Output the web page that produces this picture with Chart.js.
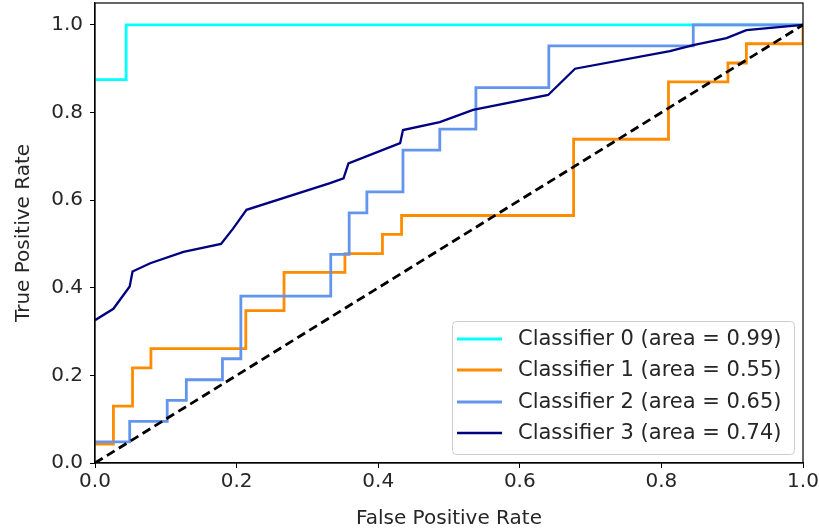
<!DOCTYPE html>
<html>
<head>
<meta charset="utf-8">
<script src="https://cdn.jsdelivr.net/npm/chart.js"></script>
<style>
  html, body { margin: 0; padding: 0; background: #fff; }
  #wrap { width: 819px; height: 532px; position: relative; }
</style>
</head>
<body>
<div id="wrap"><canvas id="roc"></canvas></div>
<script>
// ROC curve points (false positive rate / true positive rate)
const fpr0 = [0, 0.044, 0.044, 1];
const tpr0 = [0.875, 0.875, 1, 1];

const fpr1 = [0, 0.026, 0.026, 0.053, 0.053, 0.079, 0.079, 0.213, 0.213, 0.267, 0.267, 0.353, 0.353, 0.406, 0.406, 0.433, 0.433, 0.676, 0.676, 0.81, 0.81, 0.894, 0.894, 0.92, 0.92, 1, 1];
const tpr1 = [0.043, 0.043, 0.130, 0.130, 0.217, 0.217, 0.261, 0.261, 0.348, 0.348, 0.435, 0.435, 0.478, 0.478, 0.522, 0.522, 0.565, 0.565, 0.739, 0.739, 0.870, 0.870, 0.913, 0.913, 0.957, 0.957, 1];

const fpr2 = [0, 0.049, 0.049, 0.102, 0.102, 0.129, 0.129, 0.18, 0.18, 0.206, 0.206, 0.333, 0.333, 0.359, 0.359, 0.384, 0.384, 0.435, 0.435, 0.487, 0.487, 0.538, 0.538, 0.641, 0.641, 0.845, 0.845, 1];
const tpr2 = [0.048, 0.048, 0.095, 0.095, 0.143, 0.143, 0.190, 0.190, 0.238, 0.238, 0.381, 0.381, 0.476, 0.476, 0.571, 0.571, 0.619, 0.619, 0.714, 0.714, 0.762, 0.762, 0.857, 0.857, 0.952, 0.952, 1, 1];

const fpr3 = [0, 0.026, 0.049, 0.053, 0.078, 0.125, 0.178, 0.195, 0.214, 0.332, 0.351, 0.358, 0.431, 0.435, 0.487, 0.534, 0.64, 0.678, 0.812, 0.845, 0.892, 0.92, 1];
const tpr3 = [0.326, 0.352, 0.403, 0.437, 0.456, 0.482, 0.5, 0.535, 0.578, 0.639, 0.65, 0.684, 0.73, 0.76, 0.778, 0.806, 0.84, 0.9, 0.94, 0.954, 0.97, 0.988, 1];

const chanceX = [0, 1];
const chanceY = [0, 1];

const labels = ["Classifier 0 (area = 0.99)", "Classifier 1 (area = 0.55)", "Classifier 2 (area = 0.65)", "Classifier 3 (area = 0.74)"];
const colors = ["#00ffff", "#ff8c00", "#6495ed", "#000080"];
const xTicks = [0, 0.2, 0.4, 0.6, 0.8, 1.0];
const yTicks = [0, 0.2, 0.4, 0.6, 0.8, 1.0];

const FONT = "'DejaVu Sans', sans-serif";
const FS = 20;

function pts(xs, ys) {
    return xs.map((x, i) => ({ x: x, y: ys[i] }));
}

const curves = [[fpr0, tpr0], [fpr1, tpr1], [fpr2, tpr2], [fpr3, tpr3]];
const datasets = curves.map((c, i) => ({
    label: labels[i],
    data: pts(c[0], c[1]),
    borderColor: colors[i],
    borderWidth: i === 3 ? 2.3 : 2.8,
    pointRadius: 0,
    showLine: true,
    fill: false,
    tension: 0,
    order: 4 - i
}));
datasets.push({
    label: "chance",
    data: pts(chanceX, chanceY),
    borderColor: "#000",
    borderWidth: 2.8,
    borderDash: [9, 5],
    pointRadius: 0,
    showLine: true,
    fill: false,
    order: 0
});

// frame + legend drawn in the plot box, matplotlib style
const framePlugin = {
    id: "frame",
    afterDatasetsDraw(chart) {
        const ctx = chart.ctx, a = chart.chartArea;
        ctx.save();
        ctx.strokeStyle = "#000";
        ctx.lineWidth = 1.2;
        ctx.strokeRect(a.left, a.top, a.right - a.left, a.bottom - a.top);

        // legend
        const bx = 452, by = 321, bw = 342, bh = 133;
        ctx.fillStyle = "rgba(255,255,255,0.8)";
        ctx.strokeStyle = "#cccccc";
        ctx.lineWidth = 1;
        ctx.beginPath();
        ctx.roundRect(bx + 0.5, by + 0.5, bw, bh, 4);
        ctx.fill();
        ctx.stroke();
        ctx.font = "21px " + FONT;
        ctx.textBaseline = "middle";
        const rows = [339, 370, 402, 433];
        labels.forEach((lab, i) => {
            ctx.strokeStyle = colors[i];
            ctx.lineWidth = i === 3 ? 2.3 : 2.8;
            ctx.beginPath();
            ctx.moveTo(457, rows[i]);
            ctx.lineTo(502, rows[i]);
            ctx.stroke();
            ctx.fillStyle = "#262626";
            ctx.fillText(lab, 518, rows[i] + 1);
        });
        ctx.restore();
    }
};

new Chart(document.getElementById("roc"), {
    type: "scatter",
    data: { datasets: datasets },
    plugins: [framePlugin],
    options: {
        responsive: true,
        maintainAspectRatio: false,
        animation: false,
        layout: { padding: { left: 0, right: 16, top: 3, bottom: 0 } },
        plugins: { legend: { display: false }, tooltip: { enabled: false } },
        scales: {
            x: {
                type: "linear",
                min: 0,
                max: 1,
                afterBuildTicks: s => { s.ticks = xTicks.map(v => ({ value: v })); },
                afterFit: s => { s.height = 69; s.paddingLeft = 0; s.paddingRight = 0; },
                grid: { drawOnChartArea: false, drawTicks: true, tickLength: 5, color: "#000", lineWidth: 1 },
                border: { display: true, color: "#000", width: 1.2 },
                ticks: { color: "#262626", font: { family: FONT, size: FS }, padding: 2, maxRotation: 0, callback: v => v.toFixed(1) },
                title: { display: true, text: "False Positive Rate", color: "#262626", font: { family: FONT, size: FS }, padding: { top: 0, bottom: 1 } }
            },
            y: {
                type: "linear",
                min: 0,
                max: 1.05,
                afterBuildTicks: s => { s.ticks = yTicks.map(v => ({ value: v })); },
                afterFit: s => { s.width = 95; s.paddingTop = 0; s.paddingBottom = 0; },
                grid: { drawOnChartArea: false, drawTicks: true, tickLength: 5, color: "#000", lineWidth: 1 },
                border: { display: true, color: "#000", width: 1.2 },
                ticks: { color: "#262626", font: { family: FONT, size: FS }, padding: 7, callback: v => v.toFixed(1) },
                title: { display: true, text: "True Positive Rate", color: "#262626", font: { family: FONT, size: FS }, padding: { top: 12, bottom: 0 } }
            }
        }
    }
});
</script>
</body>
</html>
